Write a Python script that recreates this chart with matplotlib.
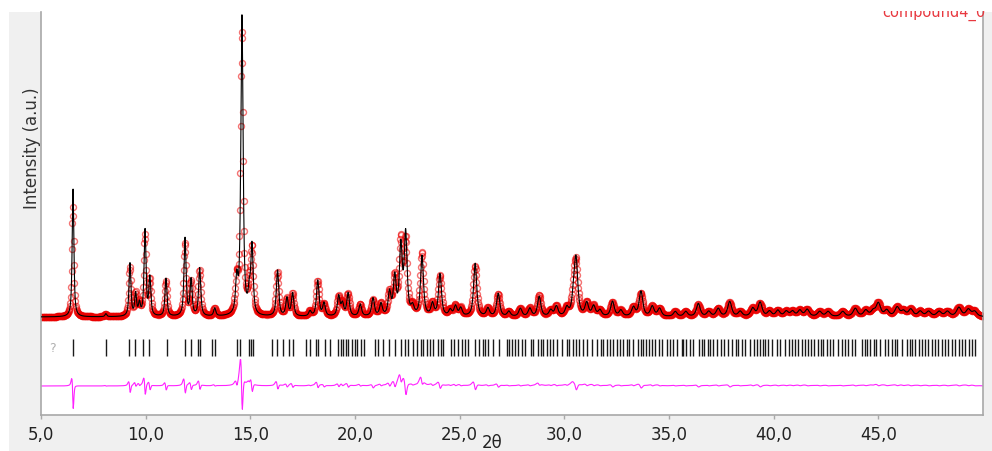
import numpy as np
import matplotlib
matplotlib.use('Agg')
import matplotlib.pyplot as plt
from matplotlib.patches import Rectangle

# ---------------- data ----------------
# Bragg peaks: position (2theta), calculated height, observed height (counts above background)
peak_pos = [6.53, 8.10, 9.25, 9.52, 9.70, 9.97, 10.20, 10.97, 11.88, 12.17, 12.58, 13.30,
            14.35, 14.60, 14.95, 15.08, 16.30, 16.75, 17.02, 17.85, 18.22, 18.52, 19.22,
            19.40, 19.67, 20.25, 20.86, 21.24, 21.65, 21.90, 22.19, 22.42, 22.75, 23.20,
            23.70, 24.06, 24.55, 24.80, 25.05, 25.74, 26.35, 26.84, 27.35, 27.90, 28.35,
            28.80, 29.35, 29.62, 30.12, 30.45, 30.56, 31.07, 31.40, 31.70, 32.30, 32.70,
            33.30, 33.66, 34.20, 34.55, 35.30, 35.80, 36.40, 36.90, 37.35, 37.90, 38.40,
            39.00, 39.35, 39.80, 40.20, 40.60, 40.90, 41.25, 41.60, 42.20, 42.60, 43.30,
            43.90, 44.40, 44.75, 45.00, 45.40, 45.90, 46.20, 46.55, 47.00, 47.40, 47.90,
            48.30, 48.85, 49.30, 49.60]
calc_height = [3840, 90, 1590, 660, 360, 2580, 1140, 1140, 2340, 1080, 1440, 240,
               990, 8970, 600, 2040, 1380, 540, 690, 150, 1080, 390, 600,
               360, 690, 360, 540, 360, 690, 1140, 2040, 2430, 240, 1800,
               360, 1260, 180, 300, 240, 1590, 240, 690, 150, 240, 240,
               600, 180, 300, 240, 540, 1590, 390, 300, 180, 450, 180,
               270, 750, 300, 240, 150, 150, 390, 150, 240, 450, 150,
               240, 420, 150, 180, 150, 150, 180, 210, 150, 150, 150,
               240, 180, 150, 390, 180, 270, 150, 210, 150, 150, 150,
               150, 270, 210, 150]
obs_height = [3300, 90, 1440, 660, 360, 2400, 1050, 1050, 2190, 990, 1380, 240,
              930, 8500, 600, 1900, 1320, 510, 660, 150, 1050, 360, 570,
              360, 660, 360, 480, 360, 660, 1080, 2160, 2160, 240, 1890,
              360, 1200, 180, 300, 240, 1500, 240, 660, 150, 240, 240,
              630, 180, 300, 240, 540, 1470, 390, 300, 180, 420, 180,
              270, 690, 300, 240, 150, 150, 360, 150, 240, 420, 150,
              240, 390, 150, 180, 150, 150, 180, 210, 150, 150, 150,
              240, 180, 150, 390, 180, 270, 150, 210, 150, 150, 150,
              150, 270, 210, 150]
background = 500

# reflection (tick) positions, 2theta
reflections = [6.54, 8.10, 9.22, 9.50, 9.88, 10.16, 11.02, 11.90, 12.15, 12.52, 12.60, 13.16,
               13.32, 14.35, 14.51, 14.94, 15.04, 15.12,
               16.02, 16.29, 16.58, 16.85, 17.05, 17.66, 17.85, 18.12, 18.25, 18.57, 18.81,
               19.21, 19.32, 19.44, 19.57, 19.68, 19.84, 20.00, 20.11, 20.27, 20.43, 20.96,
               21.12, 21.35, 21.64, 21.91, 22.19, 22.39, 22.55, 22.79, 22.95, 23.14, 23.27,
               23.43, 23.59, 23.74, 23.98, 24.10, 24.22,
               24.59, 24.73, 24.94, 25.10, 25.26, 25.42, 25.74, 25.94, 26.10, 26.21, 26.37,
               26.58, 26.90, 27.25, 27.38, 27.49, 27.65, 27.81, 27.97, 28.13, 28.40, 28.52,
               28.76, 28.88, 29.00, 29.16, 29.32, 29.48, 29.67, 29.88, 30.12, 30.24, 30.40,
               30.56, 30.72, 30.88, 31.07, 31.31, 31.58, 31.74, 31.87, 32.03, 32.19, 32.34,
               32.51, 32.66, 32.82, 32.98, 33.11,
               33.30, 33.54, 33.65, 33.78, 33.91, 34.06, 34.18, 34.34, 34.54, 34.66, 34.92,
               35.05, 35.21, 35.37, 35.61, 35.69, 35.82, 35.98, 36.14, 36.41, 36.57, 36.68,
               36.84, 36.96, 37.12, 37.28, 37.48, 37.63, 37.84, 38.00, 38.21, 38.32, 38.48,
               38.64, 38.88, 39.07, 39.22, 39.35, 39.48, 39.59, 39.75, 39.91, 40.15, 40.31,
               40.55, 40.71, 40.87, 41.03, 41.18, 41.35, 41.50, 41.66,
               41.79, 41.93, 42.14, 42.25, 42.38, 42.54, 42.70, 42.83, 43.09, 43.26, 43.42,
               43.57, 43.73, 43.89, 44.21, 44.37, 44.48, 44.61, 44.77, 44.90, 45.09, 45.33,
               45.44, 45.65, 45.80, 45.91, 46.12, 46.36, 46.49, 46.60, 46.76, 46.92, 47.08,
               47.24, 47.39, 47.56, 47.72, 47.87, 48.03, 48.19, 48.35, 48.51, 48.67, 48.83,
               48.99, 49.15, 49.31, 49.47, 49.63]

xtick_values = [5, 10, 15, 20, 25, 30, 35, 40, 45]
xtick_labels = ['5,0', '10,0', '15,0', '20,0', '25,0', '30,0', '35,0', '40,0', '45,0']
legend_label = 'compound4_0'

# ---------------- layout constants ----------------
X_MIN, X_MAX = 5.0, 50.0
Y_MIN, Y_MAX = -2440, 9650
HKL_LO, HKL_HI = -670, -160
DIFF_OFFSET = -1570


def pseudo_voigt(x, pos, height, fwhm, eta=0.75):
    d = (x - pos) / fwhm
    lor = 1.0 / (1.0 + 4.0 * d ** 2)
    gau = np.exp(-4.0 * np.log(2.0) * d ** 2)
    return height * (eta * lor + (1 - eta) * gau)


def fwhm_at(pos):
    return 0.07 + 0.004 * pos


def profile(x, heights, shift=0.0, wscale=1.0):
    y = np.full_like(x, float(background))
    for p, h in zip(peak_pos, heights):
        y += pseudo_voigt(x, p + shift, h, fwhm_at(p) * wscale)
    return y


x_obs = np.arange(X_MIN, X_MAX + 1e-9, 0.02)
x_fine = np.arange(X_MIN, X_MAX + 1e-9, 0.004)
y_obs = profile(x_obs, obs_height, shift=-0.007, wscale=1.12)
y_calc_obs = profile(x_obs, calc_height)
y_calc = profile(x_fine, calc_height)
y_diff = y_obs - y_calc_obs + DIFF_OFFSET

# ---------------- figure ----------------
W, H = 992, 452
fig = plt.figure(figsize=(W / 100, H / 100), dpi=100, facecolor='white')
fig.patches.append(Rectangle((9 / W, 0), 1, (H - 13) / H, transform=fig.transFigure,
                             facecolor='#f0f0f0', edgecolor='none', zorder=-5))

ax = fig.add_axes([41 / W, 36 / H, 942 / W, 403 / H])
ax.set_zorder(1)
ax.set_facecolor('white')
ax.set_xlim(X_MIN, X_MAX)
ax.set_ylim(Y_MIN, Y_MAX)

ax.plot(x_obs, y_obs, linestyle='none', marker='o', markersize=4.3, mfc='none',
        mec=(0.92, 0.0, 0.0, 0.55), mew=1.0, zorder=2)
ax.plot(x_fine, y_calc, color='black', lw=0.8, zorder=3)
ax.vlines(reflections, HKL_LO, HKL_HI, color='#1a1a1a', lw=1.0, zorder=2)
ax.text(5.53, (HKL_LO + HKL_HI) / 2, '?', color='#b0b0b0', fontsize=9,
        ha='center', va='center')
ax.plot(x_obs, y_diff, color='#ff22ff', lw=0.8, zorder=2)

ax.spines['top'].set_visible(False)
for side in ['left', 'right', 'bottom']:
    ax.spines[side].set_color('#a8a8a8')
    ax.spines[side].set_linewidth(1.2)
ax.set_yticks([])
ax.set_xticks(xtick_values)
ax.set_xticklabels(xtick_labels)
ax.tick_params(axis='x', direction='out', length=3, width=1, color='#a8a8a8',
               labelsize=12, labelcolor='#222222', pad=4.5)

fig.text(32 / W, 1 - 148 / H, 'Intensity (a.u.)', rotation=90, ha='center', va='center',
         fontsize=12, color='#333333', zorder=3)
fig.text(492 / W, 1 - 443 / H, '2θ', ha='center', va='center', fontsize=12,
         color='#222222', zorder=3)
fig.text(882 / W, 1 - 17 / H, legend_label, ha='left', va='baseline', fontsize=10.5,
         color='#e8383f', zorder=4)
fig.patches.append(Rectangle((0.8, 1 - 12 / H), 0.2, 12 / H, transform=fig.transFigure,
                             facecolor='white', edgecolor='none', zorder=6))

fig.savefig('out.png', dpi=100, facecolor=fig.get_facecolor())
